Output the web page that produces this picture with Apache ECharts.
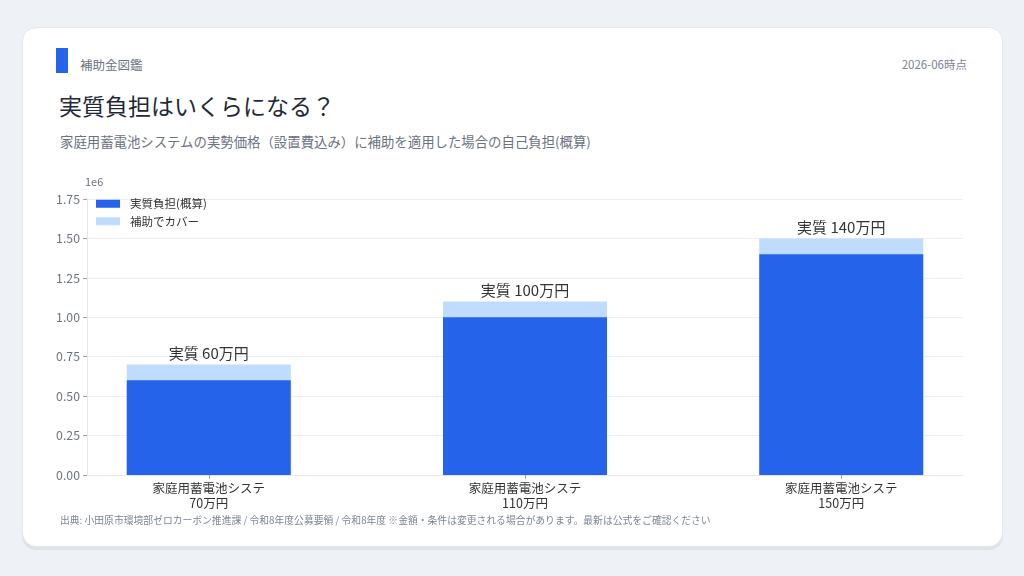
<!DOCTYPE html>
<html>
<head>
<meta charset="utf-8">
<script src="https://cdn.jsdelivr.net/npm/echarts@6/dist/echarts.min.js"></script>
<style>
    html, body { margin: 0; padding: 0; background: #eef2f7; font-family: "Noto Sans CJK JP", "Noto Sans", sans-serif; }
    #page { position: relative; width: 1024px; height: 576px; overflow: hidden; }
    #card {
        position: absolute; left: 22px; top: 27px; width: 979px; height: 518px;
        background: #fff; border: 1px solid #e2e7ee; border-radius: 14px;
        box-shadow: 0 3px 0 #dde3eb;
    }
    #accent { position: absolute; left: 56px; top: 48px; width: 12px; height: 25px; background: #2563eb; }
    .t { position: absolute; white-space: nowrap; }
    #brand { left: 80px; top: 55px; font-size: 12.5px; color: #6b7280; }
    #date { right: 57px; top: 56px; font-size: 11.5px; color: #7b8494; }
    #title { left: 59px; top: 88px; font-size: 23px; color: #1f2937; }
    #sub { left: 60px; top: 131px; font-size: 13.4px; color: #6b7280; }
    #src { left: 60px; top: 513px; font-size: 9.8px; color: #7b8494; }
    #chart { position: absolute; left: 0; top: 0; width: 1024px; height: 576px; }
</style>
</head>
<body>
<div id="page">
    <div id="card"></div>
    <div id="accent"></div>
    <div class="t" id="brand">補助金図鑑</div>
    <div class="t" id="date">2026-06時点</div>
    <div class="t" id="title">実質負担はいくらになる？</div>
    <div class="t" id="sub">家庭用蓄電池システムの実勢価格（設置費込み）に補助を適用した場合の自己負担(概算)</div>
    <div id="chart"></div>
    <div class="t" id="src">出典: 小田原市環境部ゼロカーボン推進課 / 令和8年度公募要領 / 令和8年度 ※金額・条件は変更される場合があります。最新は公式をご確認ください</div>
</div>
<script>
    // データ
    var categories = ['家庭用蓄電池システ\n70万円', '家庭用蓄電池システ\n110万円', '家庭用蓄電池システ\n150万円'];
    var selfBurden = [600000, 1000000, 1400000];   // 実質負担(概算)
    var subsidy = [100000, 100000, 100000];        // 補助でカバー
    var burdenLabels = ['実質 60万円', '実質 100万円', '実質 140万円'];
    var positions = [0, 1, 2];

    var myChart = echarts.init(document.getElementById('chart'), null, { renderer: 'canvas' });
    var font = '"Noto Sans CJK JP", "Noto Sans", sans-serif';

    // 補助分は自己負担の上に積む(合計値で下に描き、自己負担を重ねる)
    var totals = selfBurden.map(function (v, i) { return v + subsidy[i]; });

    var option = {
        animation: false,
        textStyle: { fontFamily: font },
        grid: { left: 87, right: 61, top: 199, bottom: 101 },
        legend: {
            orient: 'vertical',
            left: 91, top: 193,
            icon: 'rect',
            itemWidth: 24, itemHeight: 8, itemGap: 6,
            textStyle: { fontSize: 11.5, color: '#333', padding: [0, 0, 0, 5] },
            data: ['実質負担(概算)', '補助でカバー']
        },
        xAxis: {
            type: 'value',
            min: -0.385, max: 2.385,
            splitLine: { show: false },
            axisLine: { show: true, onZero: false, lineStyle: { color: '#e5e7eb' } },
            axisTick: { show: true, customValues: positions, length: 4, lineStyle: { color: '#9ca3af' } },
            axisLabel: {
                customValues: positions,
                fontSize: 12.5, color: '#333', lineHeight: 15, margin: 6,
                formatter: function (v) { return categories[Math.round(v)]; }
            }
        },
        yAxis: {
            type: 'value',
            min: 0, max: 1750000, interval: 250000,
            name: '1e6',
            nameLocation: 'end',
            nameGap: 12,
            nameTextStyle: { fontSize: 11, color: '#6b7280', align: 'left', padding: [0, 0, 0, -2] },
            axisLine: { show: true, onZero: false, lineStyle: { color: '#e5e7eb' } },
            axisTick: { show: true, length: 4, lineStyle: { color: '#9ca3af' } },
            axisLabel: {
                fontSize: 12.3, color: '#6b7280', margin: 7,
                formatter: function (v) { return (v / 1e6).toFixed(2); }
            },
            splitLine: { lineStyle: { color: '#eeeff2' } }
        },
        series: [
            {
                name: '補助でカバー',
                type: 'bar',
                barWidth: 164,
                barGap: '-100%',
                itemStyle: { color: '#bfdbfe' },
                label: {
                    show: true,
                    position: 'top',
                    distance: 4,
                    fontSize: 15,
                    color: '#333',
                    formatter: function (p) { return burdenLabels[p.dataIndex]; }
                },
                data: positions.map(function (p, i) { return [p, totals[i]]; })
            },
            {
                name: '実質負担(概算)',
                type: 'bar',
                barWidth: 164,
                barGap: '-100%',
                z: 3,
                itemStyle: { color: '#2563eb' },
                data: positions.map(function (p, i) { return [p, selfBurden[i]]; })
            }
        ]
    };
    myChart.setOption(option);
</script>
</body>
</html>
